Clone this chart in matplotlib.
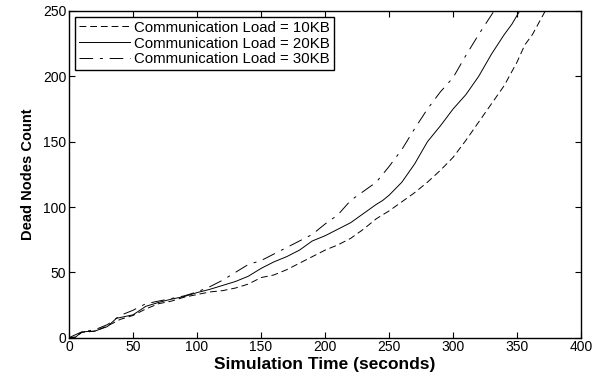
import numpy as np
import matplotlib.pyplot as plt

plt.rcParams['font.family'] = ['Liberation Sans', 'DejaVu Sans']

# dead node counts over simulation time for each communication load
t_10kb = [0, 5, 10, 20, 30, 40, 50, 60, 70, 80, 90, 100, 110, 120, 130, 140,
          150, 160, 170, 180, 190, 200, 210, 220, 230, 240, 250, 260, 270, 280,
          290, 300, 310, 320, 330, 340, 350, 356, 362, 367, 372]
dead_10kb = [0, 0.5, 4, 5, 9, 14, 17, 22, 26, 28, 31, 33, 35, 36, 38, 41,
             46, 48, 52, 57, 62, 67, 71, 76, 83, 91, 97, 104, 111, 119,
             128, 138, 151, 165, 179, 193, 211, 224, 232, 241, 250]

t_20kb = [0, 5, 10, 20, 30, 37, 50, 60, 70, 80, 90, 100, 110, 120, 130, 140,
          150, 160, 170, 180, 190, 200, 210, 220, 230, 240, 245, 250, 260, 270,
          280, 290, 300, 310, 320, 330, 340, 346, 352]
dead_20kb = [0, 0.3, 4.5, 5, 8.5, 14.8, 17.5, 24, 27, 29.5, 31.5, 34.5, 37, 40,
             43, 47, 53, 58, 62, 67, 74, 78, 83, 88, 95, 102, 105, 109, 119, 133,
             150, 162, 175, 186, 200, 217, 232, 240, 250]

t_30kb = [0, 10, 20, 30, 40, 50, 60, 70, 80, 90, 100, 110, 120, 130, 140,
          150, 160, 170, 180, 190, 200, 210, 220, 230, 240, 250, 260, 270, 280,
          290, 300, 310, 320, 326, 332]
dead_30kb = [0, 4.5, 6, 10, 17, 21, 26, 28, 30, 32, 35, 39, 44, 50, 56,
             59, 64, 69, 74, 79, 87, 94, 105, 112, 119, 131, 144, 160, 175,
             188, 199, 216, 232, 241, 250]

labels = ['Communication Load = 10KB', 'Communication Load = 20KB',
          'Communication Load = 30KB']

fig = plt.figure(figsize=(5.96, 3.79), dpi=100)
ax = fig.add_axes([0.1158, 0.109, 0.8592, 0.862])

ax.plot(t_10kb, dead_10kb, color='black', lw=0.7, linestyle=(0, (7, 4)), label=labels[0])
ax.plot(t_20kb, dead_20kb, color='black', lw=0.7, linestyle='-', label=labels[1])
ax.plot(t_30kb, dead_30kb, color='black', lw=0.7, linestyle=(0, (14, 7, 3, 7)), label=labels[2])

ax.set_xlim(0, 400)
ax.set_ylim(0, 250)
ax.set_xticks(np.arange(0, 401, 50))
ax.set_yticks(np.arange(0, 251, 50))
ax.tick_params(direction='in', top=True, right=True, length=4, width=0.8,
               labelsize=10, pad=2)
for sp in ax.spines.values():
    sp.set_linewidth(1.0)

ax.set_xlabel('Simulation Time (seconds)', fontsize=12.5, fontweight='bold', labelpad=2)
ax.set_ylabel('Dead Nodes Count', fontsize=10.5, fontweight='bold', labelpad=6)

leg = ax.legend(loc='upper left', fontsize=10.8, fancybox=False, framealpha=1,
                edgecolor='black', borderpad=0.25, labelspacing=0.12,
                handlelength=3.4, handletextpad=0.3, borderaxespad=0.4)
leg.get_frame().set_linewidth(1.0)

fig.savefig('out.png', dpi=100)
